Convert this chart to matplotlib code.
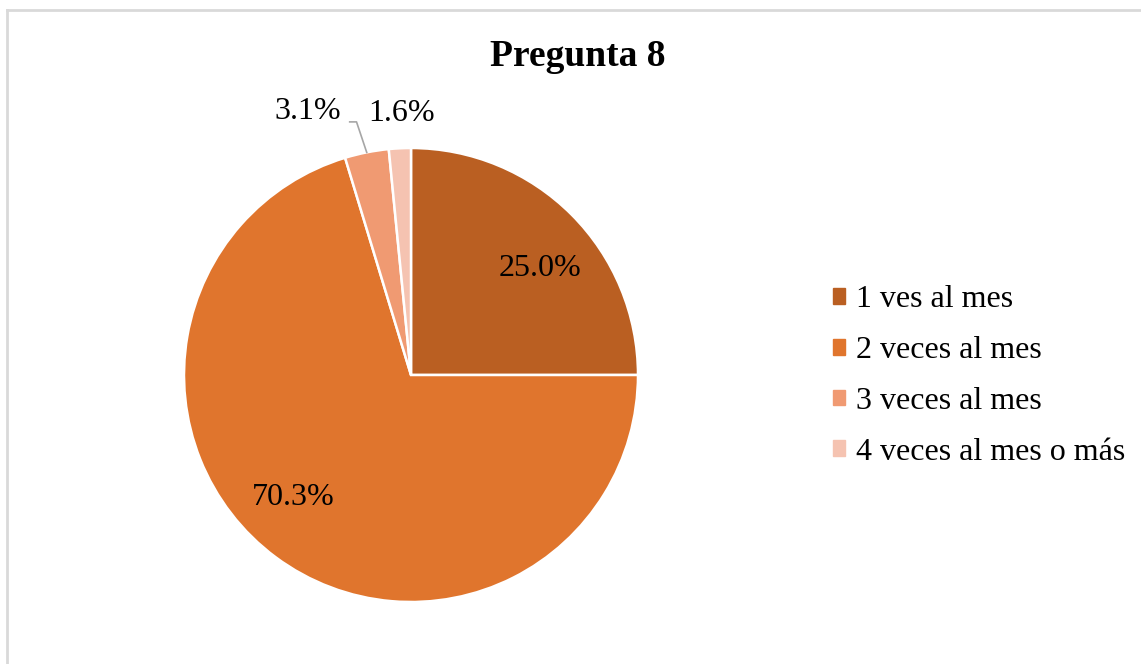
import numpy as np
import matplotlib
matplotlib.use('Agg')
import matplotlib.pyplot as plt
from matplotlib.patches import Rectangle
from matplotlib.lines import Line2D

# answers to question 8 (n = 64)
categories = ['1 ves al mes', '2 veces al mes', '3 veces al mes', '4 veces al mes o más']
counts = [16, 45, 2, 1]
colors = ['#BA5F22', '#E0752D', '#F09A72', '#F5C3B1']

plt.rcParams['font.family'] = ['Liberation Serif', 'DejaVu Serif']

W, H = 1141, 664
fig = plt.figure(figsize=(W / 100, H / 100), dpi=100)

# chart area frame: only the top and left edges fall inside the picture
fx, fy = 7 / W, 1 - 10 / H
fig.add_artist(Line2D([fx, 1], [fy, fy], transform=fig.transFigure,
                      color='#d9d9d9', lw=2))
fig.add_artist(Line2D([fx, fx], [0, fy], transform=fig.transFigure,
                      color='#d9d9d9', lw=2))

cx, cy, r = 411, 375, 227
ax = fig.add_axes([(cx - r) / W, (H - cy - r) / H, 2 * r / W, 2 * r / H])
wedges, _ = ax.pie(counts, colors=colors, startangle=90, counterclock=False,
                   radius=1, wedgeprops=dict(edgecolor='white', linewidth=1.8))
ax.set_xlim(-1, 1)
ax.set_ylim(-1, 1)
ax.set_aspect('auto')
ax.axis('off')

pcts = 100 * np.array(counts) / sum(counts)
mids = [np.deg2rad((w.theta1 + w.theta2) / 2) for w in wedges]

# big slices: labels inside
ax.text(0.57, 0.47, f'{pcts[0]:.1f}%', ha='center', va='center', fontsize=23)
ax.text(-0.52, -0.54, f'{pcts[1]:.1f}%', ha='center', va='center', fontsize=23)

# small slices: labels outside, first one with a leader line
a = mids[2]
ex, ey = np.cos(a), np.sin(a)
ax.plot([ex, -0.24, -0.27], [ey, 1.115, 1.115], color='#a6a6a6', lw=1.2,
        clip_on=False)
ax.text(-0.455, 1.16, f'{pcts[2]:.1f}%', ha='center', va='center', fontsize=23,
        clip_on=False)
ax.text(-0.04, 1.15, f'{pcts[3]:.1f}%', ha='center', va='center', fontsize=23,
        clip_on=False)

fig.text(578 / W, 1 - 57 / H, 'Pregunta 8', ha='center', va='center',
         fontsize=27, fontweight='bold')

handles = [Rectangle((0, 0), 1, 1, color=c) for c in colors]
fig.legend(handles, categories, loc='center left',
           bbox_to_anchor=(817 / W, 1 - 376 / H), frameon=False, fontsize=23,
           handlelength=0.38, handleheight=0.38, handletextpad=0.35,
           labelspacing=0.68, borderpad=0)

fig.savefig('out.png', dpi=100)
